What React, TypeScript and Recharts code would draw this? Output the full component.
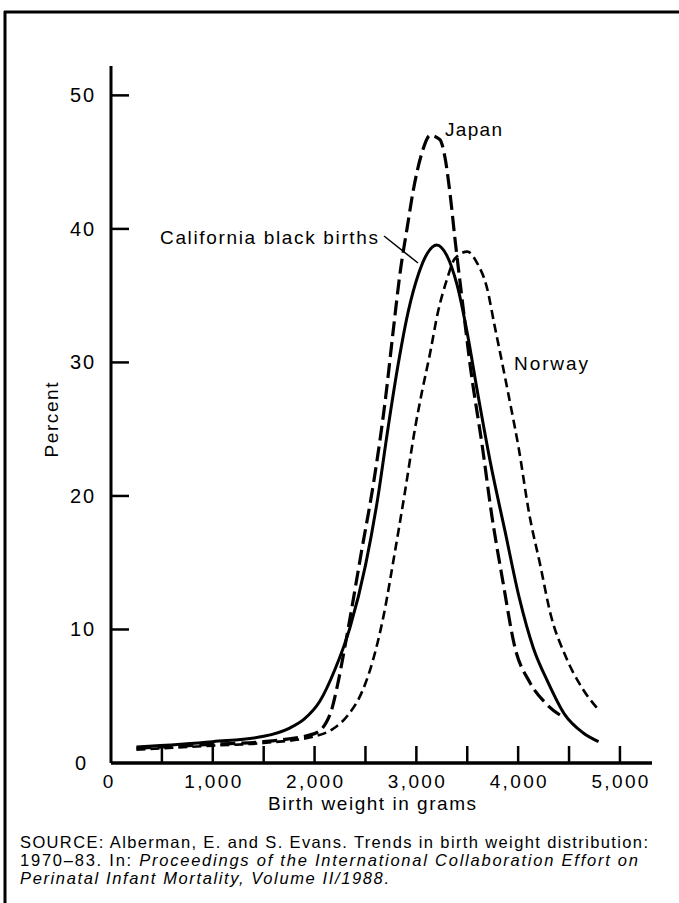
import React from "react";
import { LineChart, Line, XAxis, YAxis } from "recharts";

const W = 679;
const H = 903;
const AXIS_X = 111;
const AXIS_Y = 763;
const M = { top: 66, right: 27, bottom: H - AXIS_Y - 1, left: AXIS_X - 1 };
const FONT = '"Liberation Sans", Arial, Helvetica, sans-serif';

// birth weight (grams) and percent
const caliGrams = [250, 1000, 1500, 1750, 1900, 2050, 2200, 2350, 2500, 2620, 2720, 2820, 2920, 3020, 3110, 3200, 3300, 3400, 3500, 3600, 3730, 3870, 4010, 4150, 4290, 4460, 4640, 4790];
const caliPercent = [1.2, 1.6, 2.0, 2.6, 3.3, 4.6, 7.0, 10.2, 14.8, 19.8, 25.0, 29.8, 33.8, 36.6, 38.2, 38.8, 38.0, 35.8, 32.2, 27.8, 22.4, 17.4, 12.4, 8.6, 6.1, 3.6, 2.25, 1.6];

const japanGrams = [250, 1000, 1500, 2000, 2150, 2230, 2300, 2370, 2460, 2580, 2700, 2770, 2840, 2910, 2970, 3055, 3135, 3230, 3280, 3330, 3380, 3450, 3530, 3650, 3740, 3850, 3970, 4110, 4280, 4450];
const japanPercent = [1.1, 1.4, 1.6, 2.2, 3.6, 6.0, 8.8, 11.8, 15.8, 21.0, 27.5, 32.2, 36.7, 40.1, 42.9, 45.7, 47.0, 46.7, 45.4, 42.7, 39.2, 34.7, 29.7, 23.6, 18.6, 13.6, 8.6, 6.1, 4.4, 3.4];

const norwayGrams = [250, 1000, 1500, 2000, 2190, 2330, 2470, 2570, 2680, 2780, 2890, 2990, 3055, 3135, 3210, 3300, 3380, 3500, 3600, 3690, 3770, 3850, 3920, 4005, 4110, 4215, 4320, 4460, 4630, 4800];
const norwayPercent = [1.0, 1.3, 1.5, 2.0, 2.6, 3.6, 5.4, 7.6, 11.1, 15.4, 20.4, 25.2, 27.8, 30.7, 33.7, 36.2, 37.8, 38.3, 37.4, 35.7, 32.7, 29.7, 27.0, 23.6, 18.6, 14.9, 11.1, 8.1, 5.6, 3.9];

const xTicks = [0, 500, 1000, 1500, 2000, 2500, 3000, 3500, 4000, 4500, 5000];
const yTicks = [0, 10, 20, 30, 40, 50];

const toRows = (g: number[], p: number[]) => g.map((x, i) => ({ g: x, v: p[i] }));
const caliData = toRows(caliGrams, caliPercent);
const japanData = toRows(japanGrams, japanPercent);
const norwayData = toRows(norwayGrams, norwayPercent);

function XTick(props: any) {
  const { x, payload } = props;
  const v = payload.value as number;
  return (
    <g>
      {v > 0 && <line x1={x} x2={x} y1={AXIS_Y} y2={AXIS_Y - 17} stroke="#000" strokeWidth={2.5} />}
      {v % 1000 === 0 && (
        <text
          x={v === 0 ? x - 3 : x}
          y={AXIS_Y + 25}
          textAnchor="middle"
          fontFamily={FONT}
          fontSize={19}
          fill="#000"
          textLength={v === 0 ? undefined : 57}
          lengthAdjust="spacing"
        >
          {v.toLocaleString("en-US")}
        </text>
      )}
    </g>
  );
}

function YTick(props: any) {
  const { y, payload } = props;
  const v = payload.value as number;
  return (
    <g>
      {v > 0 && <line x1={AXIS_X} x2={AXIS_X + 18} y1={y} y2={y} stroke="#000" strokeWidth={2.5} />}
      <text
        x={v === 0 ? 86 : 94}
        y={y + 7}
        textAnchor="end"
        fontFamily={FONT}
        fontSize={20}
        fill="#000"
        textLength={v === 0 ? undefined : 24}
        lengthAdjust="spacing"
      >
        {v}
      </text>
    </g>
  );
}

export default function App() {
  return (
    <div style={{ position: "absolute", left: 0, top: 0, width: W, height: H, background: "#fff" }}>
      <LineChart width={W} height={H} margin={M}>
        <XAxis
          type="number"
          dataKey="g"
          domain={[0, 5315]}
          ticks={xTicks}
          interval={0}
          height={1}
          tickLine={false}
          axisLine={{ stroke: "#000", strokeWidth: 3.5 }}
          tick={(p: any) => <XTick {...p} />}
          allowDataOverflow
        />
        <YAxis
          type="number"
          domain={[0, 52.2]}
          ticks={yTicks}
          interval={0}
          width={1}
          tickLine={false}
          axisLine={{ stroke: "#000", strokeWidth: 3 }}
          tick={(p: any) => <YTick {...p} />}
          allowDataOverflow
        />
        <Line data={norwayData} dataKey="v" type="monotone" stroke="#000" strokeWidth={2.6} strokeDasharray="9 5" dot={false} isAnimationActive={false} />
        <Line data={japanData} dataKey="v" type="monotone" stroke="#000" strokeWidth={3.2} strokeDasharray="15 6" dot={false} isAnimationActive={false} />
        <Line data={caliData} dataKey="v" type="monotone" stroke="#000" strokeWidth={3} dot={false} isAnimationActive={false} />
      </LineChart>

      <svg width={W} height={H} style={{ position: "absolute", left: 0, top: 0, pointerEvents: "none" }}>
        {/* frame */}
        <line x1={4} x2={W} y1={12} y2={12} stroke="#000" strokeWidth={3} />
        <line x1={5} x2={5} y1={11} y2={H} stroke="#000" strokeWidth={3} />

        <g fontFamily={FONT} fill="#000">
          <text x={445} y={136} fontSize={19} textLength={57} lengthAdjust="spacing">Japan</text>
          <text x={160} y={244} fontSize={19} textLength={218} lengthAdjust="spacing">California black births</text>
          <line x1={384} y1={236} x2={418} y2={263} stroke="#000" strokeWidth={1.5} />
          <text x={514} y={370} fontSize={19} textLength={74} lengthAdjust="spacing">Norway</text>

          <text x={0} y={0} fontSize={19} textAnchor="middle" transform="translate(58 420) rotate(-90)" textLength={75} lengthAdjust="spacing">
            Percent
          </text>
          <text x={372} y={810} fontSize={19} textAnchor="middle" textLength={208} lengthAdjust="spacing">
            Birth weight in grams
          </text>

          <text x={20} y={848} fontSize={16.5} textLength={628} lengthAdjust="spacing">
            SOURCE: Alberman, E. and S. Evans. Trends in birth weight distribution:
          </text>
          <text x={20} y={866} fontSize={16.5} textLength={618} lengthAdjust="spacing">
            1970–83. In: <tspan fontStyle="italic">Proceedings of the International Collaboration Effort on</tspan>
          </text>
          <text x={20} y={884} fontSize={16.5} fontStyle="italic" textLength={369} lengthAdjust="spacing">
            Perinatal Infant Mortality, Volume II/1988.
          </text>
        </g>
      </svg>
    </div>
  );
}
